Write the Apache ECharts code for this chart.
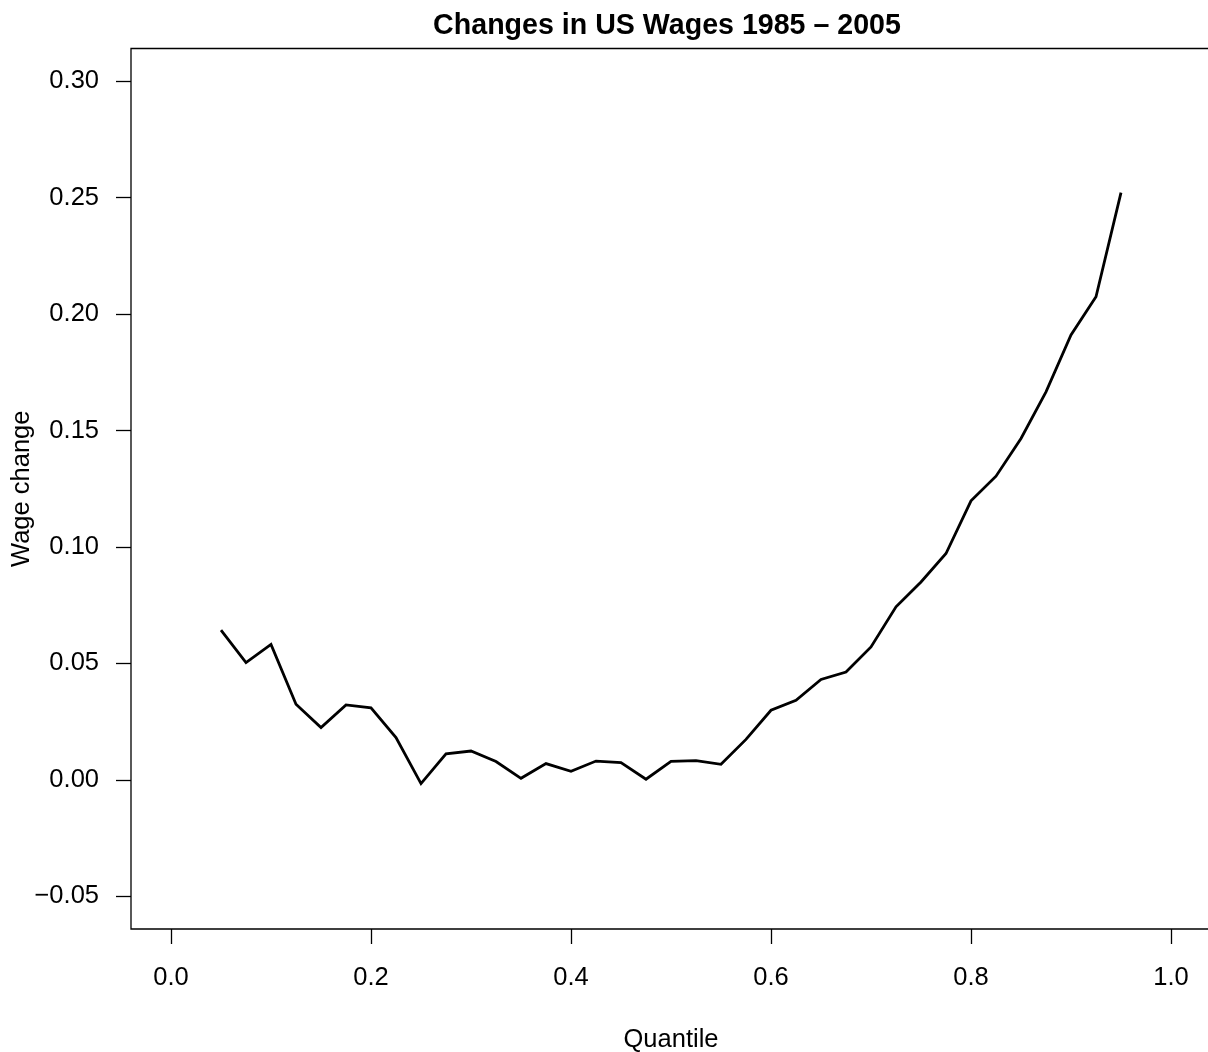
<!DOCTYPE html>
<html>
<head>
<meta charset="utf-8">
<script src="https://cdn.jsdelivr.net/npm/echarts@6/dist/echarts.min.js"></script>
<style>
  html, body { margin: 0; padding: 0; background: #fff; }
  #chart { width: 1208px; height: 1052px; }
</style>
</head>
<body>
<div id="chart"></div>
<script>
// --- data ---
const quantiles = [0.05, 0.075, 0.1, 0.125, 0.15, 0.175, 0.2, 0.225, 0.25, 0.275,
                   0.3, 0.325, 0.35, 0.375, 0.4, 0.425, 0.45, 0.475, 0.5, 0.525,
                   0.55, 0.575, 0.6, 0.625, 0.65, 0.675, 0.7, 0.725, 0.75, 0.775,
                   0.8, 0.825, 0.85, 0.875, 0.9, 0.925, 0.95];
const wageChange = [0.0643, 0.0504, 0.0582, 0.0325, 0.0225, 0.0322, 0.0309, 0.0182, -0.0016, 0.0112,
                    0.0124, 0.0079, 0.0007, 0.0070, 0.0037, 0.0081, 0.0074, 0.0003, 0.0080, 0.0083,
                    0.0067, 0.0174, 0.0299, 0.0342, 0.0431, 0.0463, 0.0571, 0.0743, 0.0850, 0.0972,
                    0.1198, 0.1304, 0.1466, 0.1666, 0.1910, 0.2074, 0.2521];
const xTicks = [0, 0.2, 0.4, 0.6, 0.8, 1.0];
const yTicks = [-0.05, 0, 0.05, 0.10, 0.15, 0.20, 0.25, 0.30];

const FONT = '"Liberation Sans", Arial, Helvetica, sans-serif';
const fmtY = v => (v < 0 ? '\u2212' : '') + Math.abs(v).toFixed(2);

const chart = echarts.init(document.getElementById('chart'), null, { renderer: 'canvas' });
chart.setOption({
  animation: false,
  backgroundColor: '#fff',
  title: {
    text: 'Changes in US Wages 1985 \u2013 2005',
    left: 662, top: 7, textAlign: 'center',
    textStyle: { fontFamily: FONT, fontSize: 28.6, fontWeight: 'bold', color: '#000' }
  },
  grid: {
    left: 131, top: 48.5, width: 1080, height: 880.5,
    outerBoundsMode: 'none', containLabel: false,
    show: true, borderColor: '#000', borderWidth: 1.3, backgroundColor: 'transparent'
  },
  xAxis: {
    type: 'value', min: -0.04, max: 1.04,
    name: 'Quantile', nameLocation: 'middle', nameGap: 98, nameMoveOverlap: false,
    nameTextStyle: { fontFamily: FONT, fontSize: 25.5, color: '#000' },
    axisLine: { show: false, onZero: false },
    splitLine: { show: false },
    axisTick: { show: true, length: 15, customValues: xTicks, lineStyle: { color: '#000', width: 1.3 } },
    axisLabel: { customValues: xTicks, margin: 36, formatter: v => v.toFixed(1),
      fontFamily: FONT, fontSize: 25.5, color: '#000' }
  },
  yAxis: {
    type: 'value', min: -0.064, max: 0.314,
    name: 'Wage change', nameLocation: 'middle', nameGap: 96, nameMoveOverlap: false,
    nameTextStyle: { fontFamily: FONT, fontSize: 25.5, color: '#000' },
    axisLine: { show: false, onZero: false },
    splitLine: { show: false },
    axisTick: { show: true, length: 15, customValues: yTicks, lineStyle: { color: '#000', width: 1.3 } },
    axisLabel: { customValues: yTicks, margin: 32, formatter: fmtY,
      fontFamily: FONT, fontSize: 25.5, color: '#000' }
  },
  series: [{
    type: 'line',
    data: quantiles.map((q, i) => [q, wageChange[i]]),
    showSymbol: false,
    lineStyle: { color: '#000', width: 2.8, join: 'miter' }
  }]
});
</script>
</body>
</html>
